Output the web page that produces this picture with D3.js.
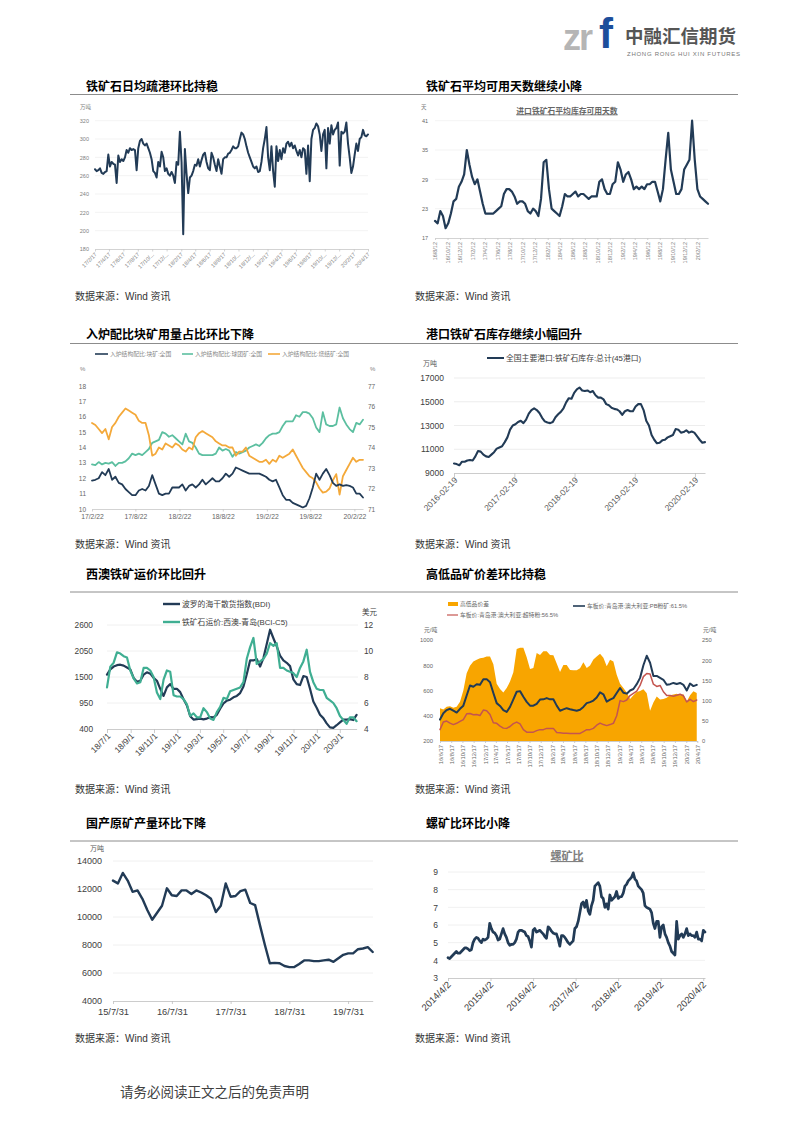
<!DOCTYPE html>
<html><head><meta charset="utf-8">
<script src="https://cdn.jsdelivr.net/npm/d3@7"></script>
<style>
body{margin:0;background:#fff;}
svg{display:block;}
</style></head><body>
<svg id="page" width="793" height="1122"></svg>
<script>
// ---------------- DATA ----------------
// Chart 1: 铁矿石日均疏港 (万吨), weekly 2017-02-17 .. 2020-04-17
const c1Values = [267,265,266,268,263,262,264,265,283,270,275,273,272,252,282,275,278,276,280,288,285,290,288,289,288,266,290,298,300,295,293,295,290,285,278,265,263,258,275,270,286,280,
265,268,262,260,264,260,252,275,272,308,275,196,289,262,241,258,
260,265,272,271,278,270,277,283,285,275,268,266,285,280,272,265,278,270,262,278,280,280,284,285,288,292,290,290,292,300,
307,305,300,292,285,280,275,270,268,270,264,265,275,290,300,313,280,266,292,265,248,292,276,288,278,290,285,295,297,292,
296,290,293,287,282,288,280,290,288,262,293,254,300,310,312,317,314,305,287,305,310,268,312,295,315,305,310,312,318,271,
308,306,308,318,295,280,263,270,283,295,287,300,302,310,304,303,305];
const c1Ticks = [180,200,220,240,260,280,300,320];
const c1Labels = ["17/2/17","17/4/17","17/6/17","17/8/17","17/10/...","17/12/...","18/2/17","18/4/17","18/6/17","18/8/17","18/10/...","18/12/...","19/2/17","19/4/17","19/6/17","19/8/17","19/10/...","19/12/...","20/2/17","20/4/17"];

// Chart 2: 进口铁矿石平均库存可用天数 (天)
const c2Values = [20.5,20,22.5,21.5,19,20,22,24.5,25,27.5,28.5,30,35,32,29.5,28,29,26.5,24,22,
22,22,22,22.5,23,23.5,26,27,27,26.5,25.5,24,24.5,24.5,24,22.5,22,23,22.5,21.5,
25,32.5,33,27,23,22.5,22,21.5,23.5,26,25.5,25.5,26,26.5,25.5,26,26,25.5,25,25.5,
25.5,25.5,28.5,29,27,26,26,28,28.5,32.5,31,28.5,30,30.5,29,27,27.5,27,27.5,27,
28,28,28.5,28.5,26.5,24.5,27,33,38.5,31,28.5,26,26,27,31,32,33,41,33,27,25.5,25,24.5,24];
const c2Ticks = [17,23,29,35,41];
const c2Labels = ["16/8/12","16/10/12","16/12/12","17/2/12","17/4/12","17/6/12","17/8/12","17/10/12","17/12/12","18/2/12","18/4/12","18/6/12","18/8/12","18/10/12","18/12/12","19/2/12","19/4/12","19/6/12","19/8/12","19/10/12","19/12/12","20/2/12"];

// Chart 3: 入炉结构配比 (%)
const c3Names = ["入炉结构配比:块矿:全国","入炉结构配比:球团矿:全国","入炉结构配比:烧结矿:全国"];
const c3Lump = [11.85,11.9,12.0,12.4,12.2,12.6,11.9,12.1,11.7,11.6,11.3,11.1,10.9,10.9,11.2,11.3,11.2,11.5,12.2,11.6,
11.0,10.9,11.0,11.0,11.4,11.4,11.4,11.6,11.2,11.5,11.6,11.4,11.6,11.9,11.6,11.8,12.0,11.8,11.8,12.0,
12.3,12.1,12.3,12.7,12.6,12.5,12.4,12.3,12.3,12.3,12.3,12.2,12.1,11.9,11.8,11.9,11.4,10.9,10.6,10.6,
10.4,10.3,10.2,10.1,10.2,10.7,11.4,12.3,11.9,12.3,12.6,12.2,11.7,11.5,11.6,11.5,11.55,11.5,11.4,11.0,11.0,10.75];
const c3Pellet = [12.9,12.85,13.05,12.9,13.0,12.95,13.05,12.8,13.0,13.0,13.1,13.3,13.6,13.5,13.6,13.5,13.7,13.9,14.3,14.4,
14.5,15.0,14.9,14.7,14.8,14.6,14.4,14.2,14.9,14.4,14.3,14.0,13.6,13.5,13.5,13.5,13.5,13.6,14.0,13.8,
13.9,13.8,13.4,13.7,13.6,13.7,13.8,14.0,14.1,14.2,14.1,14.3,14.6,14.8,14.9,14.9,15.0,15.4,15.7,15.7,
15.7,16.1,16.0,16.3,16.3,16.2,15.9,15.3,15.0,16.3,15.5,15.4,15.4,15.5,16.6,15.9,15.5,15.2,15.0,15.6,15.5,15.8];
const c3Sinter = [75.2,75.1,74.9,74.7,74.9,74.4,75.0,75.2,75.5,75.7,75.9,75.8,75.7,75.6,75.3,75.2,75.2,74.6,73.6,73.7,
74.0,73.9,74.2,74.1,74.0,74.2,74.1,73.9,73.8,74.0,73.9,74.5,74.7,74.8,74.7,74.6,74.5,74.3,74.2,74.1,
74.1,74.0,74.0,73.6,73.8,73.8,74.0,73.6,73.5,73.4,73.3,73.3,73.4,73.2,73.4,73.3,73.6,73.5,73.6,73.7,
73.9,73.6,73.3,73.0,72.8,72.6,72.5,72.3,72.0,71.8,71.85,72.0,72.4,72.7,71.7,72.6,72.9,73.2,73.5,73.3,73.4,73.4];
const c3LeftTicks = [10,11,12,13,14,15,16,17,18];
const c3RightTicks = [71,72,73,74,75,76,77];
const c3Labels = ["17/2/22","17/8/22","18/2/22","18/8/22","19/2/22","19/8/22","20/2/22"];

// Chart 4: 全国主要港口铁矿石库存 (万吨)
const c4Name = "全国主要港口:铁矿石库存:总计(45港口)";
const c4Values = [9800,9750,9650,9950,9950,10050,10100,10050,10400,10850,10800,10550,10400,10350,10550,10750,11050,11150,11250,11600,
12000,12650,13000,13100,13300,13400,13200,13500,14000,14300,14450,14300,14050,13650,13350,13250,13200,13300,13700,13950,
14150,14450,14950,15300,15250,15750,16050,16200,15950,15900,15950,15800,15900,15550,15350,15350,15200,14800,14700,14500,
14400,14350,14200,13900,14200,14300,14200,14200,14600,14800,14800,14300,13400,13000,12200,11800,11500,11550,11750,11800,
12000,12100,12200,12700,12650,12400,12450,12600,12400,12500,12400,12100,11800,11550,11600];
const c4Ticks = [9000,11000,13000,15000,17000];
const c4Labels = ["2016-02-19","2017-02-19","2018-02-19","2019-02-19","2020-02-19"];

// Chart 5: BDI & BCI-C5
const c5Names = ["波罗的海干散货指数(BDI)","铁矿石运价:西澳-青岛(BCI-C5)"];
const c5BDI = [1550,1660,1720,1750,1760,1740,1700,1660,1480,1400,1420,1550,1600,1570,1480,1420,1250,1100,1280,1350,
1250,1250,1180,1030,900,670,600,610,620,605,620,650,645,700,830,940,1000,1020,1070,1100,
1160,1300,1560,1850,1850,1880,1720,1900,2200,2500,2320,2150,1950,1850,1800,1730,1450,1350,1330,1520,
1500,1250,980,850,700,630,520,435,425,480,540,600,600,610,590,700];
const c5C5 = [7.2,8.8,9.1,9.9,9.8,9.6,9.5,8.5,7.9,7.5,7.6,8.7,8.7,8.5,8.0,6.8,6.3,7.8,8.5,8.4,
6.6,6.5,6.5,6.3,5.9,5.0,5.2,4.9,4.9,5.6,5.3,4.8,4.7,5.3,5.7,6.4,6.3,6.9,7.0,7.1,
7.2,7.6,9.4,10.3,11.0,9.0,9.2,9.4,9.8,10.6,10.4,10.6,8.7,8.7,8.5,8.4,8.3,8.0,8.7,9.2,
10.1,8.4,7.6,7.1,7.0,7.0,6.4,6.2,6.0,5.6,5.0,4.7,4.4,4.9,4.9,4.6];
const c5LeftTicks = [400,950,1500,2050,2600];
const c5RightTicks = [4,6,8,10,12];
const c5Labels = ["18/7/1","18/9/1","18/11/1","19/1/1","19/3/1","19/5/1","19/7/1","19/9/1","19/11/1","20/1/1","20/3/1"];

// Chart 6: 高低品价差
const c6Names = ["高低品价差","车板价:青岛港:澳大利亚:PB粉矿:61.5%","车板价:青岛港:澳大利亚:超特粉:56.5%"];
const c6PB = [370,420,445,455,440,425,455,480,560,640,630,650,645,690,690,665,580,500,478,445,
430,470,530,590,595,550,510,480,480,495,528,530,540,530,530,480,440,450,460,452,
445,440,448,470,500,508,520,545,585,570,512,528,540,580,620,582,575,600,612,650,
700,800,875,820,715,715,700,685,645,650,660,652,660,645,600,655,635,645];
const c6SSF = [290,350,358,342,330,340,355,370,415,418,408,410,402,445,440,410,345,340,318,302,
300,315,338,350,335,290,270,270,270,282,290,290,300,300,300,268,265,262,262,260,
260,260,260,275,290,290,300,325,342,330,322,330,340,400,520,512,525,560,578,595,
640,710,735,730,650,632,640,590,560,560,555,562,570,558,510,530,512,525];
const c6Spread = [81,78,85,86,82,85,97,125,168,186,197,201,205,206,209,209,190,142,129,120,
131,147,170,228,231,231,207,178,181,218,213,222,222,213,212,192,171,188,188,176,
175,175,180,195,181,187,202,209,216,206,185,201,197,164,142,131,120,104,113,121,
124,128,118,75,95,110,103,104,107,113,115,117,113,116,98,113,123,119];
const c6LeftTicks = [200,400,600,800,1000];
const c6RightTicks = [0,50,100,150,200,250];
const c6Labels = ["16/6/17","16/8/17","16/10/17","16/12/17","17/2/17","17/4/17","17/6/17","17/8/17","17/10/17","17/12/17","18/2/17","18/4/17","18/6/17","18/8/17","18/10/17","18/12/17","19/2/17","19/4/17","19/6/17","19/8/17","19/10/17","19/12/17","20/2/17","20/4/17"];

// Chart 7: 国产原矿产量 (万吨), monthly from 2015-07
const c7Values = [12600,12400,13150,12600,11800,11900,11300,10500,9800,10300,10800,12050,11550,11500,11900,11900,11650,11900,11750,11550,
11300,10350,10800,12400,11450,11500,11850,11950,11000,10850,9400,8000,6700,6720,6700,6500,6420,6420,6650,6900,
6900,6850,6850,6900,6950,6800,7050,7300,7400,7400,7700,7750,7850,7500];
const c7Ticks = [4000,6000,8000,10000,12000,14000];
const c7Labels = ["15/7/31","16/7/31","17/7/31","18/7/31","19/7/31"];

// Chart 8: 螺矿比
const c8Values = [4.15,4.1,4.2,4.3,4.4,4.5,4.4,4.4,4.5,4.6,4.7,4.7,4.65,4.55,4.6,5.0,5.2,5.3,5.25,5.1,
5.0,5.2,5.15,5.2,5.3,6.1,5.8,5.6,5.55,5.4,5.15,5.2,5.5,5.8,5.5,5.3,5.0,4.85,4.9,4.9,
5.0,5.2,5.6,5.7,5.7,5.65,5.6,5.4,5.35,5.1,4.75,5.7,5.8,5.6,5.65,5.7,5.6,5.5,5.35,5.25,
5.9,5.8,5.65,5.55,5.5,5.5,5.2,4.8,5.4,5.4,5.3,5.15,5.0,4.9,5.0,5.1,5.8,5.9,6.2,6.7,
7.2,7.3,7.0,7.4,6.8,6.6,7.1,7.4,8.2,8.3,8.4,8.2,7.6,7.5,7.0,7.2,6.9,7.7,7.4,7.5,
7.6,7.9,7.5,7.6,7.6,7.8,8.2,8.3,8.5,8.6,8.7,8.95,8.6,8.5,8.2,8.1,8.0,7.8,7.1,7.0,
6.95,6.9,6.7,6.1,5.8,6.2,6.2,5.3,5.9,6.0,5.5,5.3,5.0,4.8,4.5,4.4,4.3,6.2,5.2,5.4,
5.5,5.3,5.5,5.8,5.4,5.5,5.4,5.4,5.3,5.6,5.2,5.2,5.1,5.7,5.6];
const c8Ticks = [3,4,5,6,7,8,9];
const c8Labels = ["2014/4/2","2015/4/2","2016/4/2","2017/4/2","2018/4/2","2019/4/2","2020/4/2"];

// Page texts
const titles = ["铁矿石日均疏港环比持稳","铁矿石平均可用天数继续小降","入炉配比块矿用量占比环比下降","港口铁矿石库存继续小幅回升","西澳铁矿运价环比回升","高低品矿价差环比持稳","国产原矿产量环比下降","螺矿比环比小降"];
const sourceText = "数据来源：Wind 资讯";

// ---------------- HELPERS ----------------
const svg = d3.select("#page");
const parse = d3.timeParse("%Y-%m-%d");
const FONT = '"Liberation Sans","Noto Sans CJK SC",sans-serif';
const INK = "#223b56";
const TEAL3 = "#5cbfa0", ORANGE3 = "#f4a93a";
const TEAL5 = "#3fae92";
const ORANGE6 = "#f8a500", RED6 = "#c4554f";

function spread(vals, s, e){
  const a = parse(s).getTime(), b = parse(e).getTime(), n = vals.length;
  return vals.map((v,i)=>({date:new Date(a+(b-a)*i/(n-1)), value:v}));
}
function monthTicks(start, n, step){ const s = parse(start); return d3.range(n).map(i=>d3.timeMonth.offset(s, i*step)); }
function txt(x,y,s,o){
  return svg.append("text").attr("x",x).attr("y",y).text(s)
    .attr("font-size",o.size).attr("fill",o.fill||"#333").attr("font-weight",o.weight||"normal")
    .attr("text-anchor",o.anchor||"start").attr("font-family",o.family||FONT)
    .attr("dominant-baseline","central");
}
function grid(y, ticks, x0, x1, color){
  svg.append("g").selectAll("line").data(ticks).join("line")
    .attr("x1",x0).attr("x2",x1).attr("y1",d=>y(d)).attr("y2",d=>y(d))
    .attr("stroke",color||"#ebebeb").attr("stroke-width",0.8);
}
function yAxis(scale, ticks, x, side, o){
  const ax = (side==="left"?d3.axisLeft(scale):d3.axisRight(scale)).tickValues(ticks).tickSize(0).tickPadding(0).tickFormat(o.fmt||(d=>d));
  const a = svg.append("g").attr("transform",`translate(${x},0)`).call(ax);
  a.select(".domain").remove();
  a.selectAll("text").attr("font-size",o.size).attr("fill",o.color||"#595959").attr("font-family",FONT);
  return a;
}
function xAxis(scale, ticks, labels, y, o){
  const ax = d3.axisBottom(scale).tickValues(ticks).tickFormat((d,i)=>labels[i]).tickSizeInner(o.tick).tickSizeOuter(0).tickPadding(o.pad||2);
  const a = svg.append("g").attr("transform",`translate(0,${y})`).call(ax);
  a.select(".domain").attr("stroke",o.line||"#bfbfbf").attr("stroke-width",o.lw||0.8);
  a.selectAll(".tick line").attr("stroke",o.line||"#bfbfbf").attr("stroke-width",o.lw||0.8);
  const t = a.selectAll("text").attr("font-size",o.size).attr("fill",o.color||"#595959").attr("font-family",FONT);
  if(o.rot===-45){ t.attr("transform","rotate(-45)").attr("x",-3).attr("y",o.tick+1).attr("dy","0.35em").style("text-anchor","end"); }
  else if(o.rot===-90){ t.attr("transform","rotate(-90)").attr("x",-(o.tick+2)).attr("y",0).attr("dy","0.35em").style("text-anchor","end"); }
  return a;
}
function drawLine(data, x, y, color, w){
  svg.append("path").datum(data).attr("fill","none").attr("stroke",color).attr("stroke-width",w)
    .attr("stroke-linejoin","round").attr("stroke-linecap","round")
    .attr("d", d3.line().x(d=>x(d.date)).y(d=>y(d.value)));
}
function legendLine(x0,x1,y,color,w){
  svg.append("line").attr("x1",x0).attr("x2",x1).attr("y1",y).attr("y2",y).attr("stroke",color).attr("stroke-width",w);
}

// ---------------- PAGE FRAME ----------------
// logo
txt(563,37,"zr",{size:36,fill:"#b5b5b5",weight:"bold"}).attr("letter-spacing",-2);
txt(599,33,"f",{size:42,fill:"#1c4e9b",weight:"bold"});
txt(625,35,"中融汇信期货",{size:18.5,fill:"#555",weight:"bold",family:'"Noto Sans CJK SC",sans-serif'});
txt(627,54,"ZHONG RONG HUI XIN FUTURES",{size:6,fill:"#777"}).attr("textLength",113);

const rowRule = [94.5,343.5,592,841];
const rowTitle = [85,333,573,822];
const rowSource = [296,544,789,1038];
rowRule.forEach(y=>svg.append("line").attr("x1",70).attr("x2",738).attr("y1",y).attr("y2",y).attr("stroke","#8c8c8c").attr("stroke-width",1));
titles.forEach((t,i)=>{
  const r = Math.floor(i/2), c = i%2;
  txt(c?426:86, rowTitle[r], t, {size:12, fill:"#000", weight:"bold", family:'"Noto Sans CJK SC",sans-serif'});
});
rowSource.forEach(y=>{
  txt(75,y,sourceText,{size:10,fill:"#333"});
  txt(415,y,sourceText,{size:10,fill:"#333"});
});
txt(120,1091,"请务必阅读正文之后的免责声明",{size:13.5,fill:"#404040",family:'"Noto Sans CJK SC",sans-serif'});

// ---------------- CHART 1 ----------------
(function(){
  const x = d3.scaleTime().domain([parse("2017-02-17"),parse("2020-04-17")]).range([95,368]);
  const y = d3.scaleLinear().domain([180,320]).range([249,120.7]);
  grid(y, c1Ticks.slice(1), 95, 368, "#f0f0f0");
  yAxis(y, c1Ticks, 89, "left", {size:5.5, color:"#808080"});
  xAxis(x, monthTicks("2017-02-17",20,2), c1Labels, 249, {tick:2.5, size:5.5, color:"#808080", rot:-45, line:"#c8c8c8"});
  txt(80,107,"万吨",{size:5.5,fill:"#808080"});
  drawLine(spread(c1Values,"2017-02-17","2020-04-17"), x, y, INK, 2.0);
})();

// ---------------- CHART 2 ----------------
(function(){
  const x = d3.scaleTime().domain([parse("2016-08-12"),parse("2020-04-03")]).range([435,708]);
  const y = d3.scaleLinear().domain([17,41]).range([238,120.7]);
  grid(y, c2Ticks.slice(1), 435, 708, "#f0f0f0");
  yAxis(y, c2Ticks, 428, "left", {size:5.5, color:"#666"});
  xAxis(x, monthTicks("2016-08-12",22,2), c2Labels, 238, {tick:2, size:5.5, color:"#808080", rot:-90, line:"#c8c8c8"});
  txt(421,107,"天",{size:5.5,fill:"#808080"});
  txt(567,110,"进口铁矿石平均库存可用天数",{size:7.8,fill:"#666",weight:"bold",anchor:"middle",family:'"Noto Sans CJK SC",sans-serif'}).attr("text-decoration","underline");
  drawLine(spread(c2Values,"2016-08-12","2020-04-03"), x, y, INK, 2.2);
})();

// ---------------- CHART 3 ----------------
(function(){
  const x = d3.scaleTime().domain([parse("2017-02-22"),parse("2020-03-29")]).range([92,363]);
  const yL = d3.scaleLinear().domain([10,18]).range([509,386]);
  const yR = d3.scaleLinear().domain([71,77]).range([509,386]);
  yAxis(yL, c3LeftTicks, 86, "left", {size:6.5, color:"#666"});
  yAxis(yR, c3RightTicks, 368, "right", {size:6.5, color:"#666"});
  xAxis(x, monthTicks("2017-02-22",7,6), c3Labels, 509, {tick:2.5, size:6.8, color:"#666", line:"#c8c8c8", pad:3});
  txt(80,369,"%",{size:6,fill:"#808080"});
  txt(370,369,"%",{size:6,fill:"#808080"});
  const lx = [[95,108,110],[182,193,195],[268,280,282]];
  const cols = [INK, TEAL3, ORANGE3];
  c3Names.forEach((n,i)=>{ legendLine(lx[i][0],lx[i][1],354,cols[i],1.6); txt(lx[i][2],354,n,{size:5.8,fill:"#888"}); });
  drawLine(spread(c3Pellet,"2017-02-22","2020-03-29"), x, yL, TEAL3, 1.8);
  drawLine(spread(c3Sinter,"2017-02-22","2020-03-29"), x, yR, ORANGE3, 1.8);
  drawLine(spread(c3Lump,"2017-02-22","2020-03-29"), x, yL, INK, 1.8);
})();

// ---------------- CHART 4 ----------------
(function(){
  const x = d3.scaleTime().domain([parse("2016-02-19"),parse("2020-04-20")]).range([454,705]);
  const y = d3.scaleLinear().domain([9000,17000]).range([473,378]);
  grid(y, c4Ticks.slice(1), 454, 705, "#e9e9e9");
  yAxis(y, c4Ticks, 444, "left", {size:8.5, color:"#404040"});
  xAxis(x, monthTicks("2016-02-19",5,12), c4Labels, 473, {tick:4, size:8.5, color:"#595959", rot:-45, line:"#bfbfbf"});
  txt(423,363,"万吨",{size:7,fill:"#595959"});
  legendLine(487,504,358,INK,2);
  txt(506,358,c4Name,{size:7.8,fill:"#404040"});
  drawLine(spread(c4Values,"2016-02-19","2020-04-20"), x, y, INK, 2.1);
})();

// ---------------- CHART 5 ----------------
(function(){
  const x = d3.scaleTime().domain([parse("2018-07-01"),parse("2020-04-14")]).range([107,356.6]);
  const yL = d3.scaleLinear().domain([400,2600]).range([729,625]);
  const yR = d3.scaleLinear().domain([4,12]).range([729,625]);
  grid(yL, c5LeftTicks.slice(1), 107, 358, "#ececec");
  yAxis(yL, c5LeftTicks, 93, "left", {size:8.3, color:"#404040"});
  yAxis(yR, c5RightTicks, 364, "right", {size:8.3, color:"#404040"});
  xAxis(x, monthTicks("2018-07-01",11,2), c5Labels, 729, {tick:4, size:8.5, color:"#404040", rot:-45, line:"#bfbfbf"});
  txt(362,612,"美元",{size:7.5,fill:"#404040"});
  legendLine(163,180,604,INK,2.4); txt(182,604,c5Names[0],{size:7.8,fill:"#404040"});
  legendLine(163,180,622,TEAL5,2.4); txt(182,622,c5Names[1],{size:7.8,fill:"#404040"});
  drawLine(spread(c5BDI,"2018-07-01","2020-04-14"), x, yL, INK, 2.2);
  drawLine(spread(c5C5,"2018-07-01","2020-04-14"), x, yR, TEAL5, 2.2);
})();

// ---------------- CHART 6 ----------------
(function(){
  const x = d3.scaleTime().domain([parse("2016-06-17"),parse("2020-04-17")]).range([440,697.3]);
  const yL = d3.scaleLinear().domain([200,1000]).range([741,640]);
  const yR = d3.scaleLinear().domain([0,250]).range([741,640]);
  const sp = spread(c6Spread,"2016-06-17","2020-04-14");
  svg.append("path").datum(sp).attr("fill",ORANGE6)
    .attr("d", d3.area().x(d=>x(d.date)).y0(yR(0)).y1(d=>yR(d.value)));
  yAxis(yL, c6LeftTicks, 433, "left", {size:5.8, color:"#666"});
  yAxis(yR, c6RightTicks, 702, "right", {size:5.8, color:"#666"});
  xAxis(x, monthTicks("2016-06-17",24,2), c6Labels, 741, {tick:2, size:5.8, color:"#666", rot:-90, line:"#bfbfbf"});
  txt(424,630,"元/吨",{size:5.8,fill:"#666"});
  txt(703,630,"元/吨",{size:5.8,fill:"#666"});
  svg.append("rect").attr("x",448).attr("y",602).attr("width",10).attr("height",4).attr("fill",ORANGE6);
  txt(460,604,c6Names[0],{size:5.8,fill:"#666"});
  legendLine(573,585,606,INK,1.6); txt(587,606,c6Names[1],{size:5.8,fill:"#666"});
  legendLine(447,458,615,RED6,1.2); txt(460,615,c6Names[2],{size:5.8,fill:"#666"});
  drawLine(spread(c6SSF,"2016-06-17","2020-04-14"), x, yL, RED6, 1.5);
  drawLine(spread(c6PB,"2016-06-17","2020-04-14"), x, yL, INK, 2.0);
})();

// ---------------- CHART 7 ----------------
(function(){
  const x = d3.scaleTime().domain([parse("2015-07-31"),parse("2019-12-31")]).range([113,372.7]);
  const y = d3.scaleLinear().domain([4000,14000]).range([1001,861]);
  grid(y, c7Ticks.slice(1), 113, 373, "#ececec");
  yAxis(y, c7Ticks, 102, "left", {size:9, color:"#404040"});
  xAxis(x, monthTicks("2015-07-31",5,12), c7Labels, 1001, {tick:3, size:9.3, color:"#404040", line:"#bfbfbf", pad:4});
  txt(90,848,"万吨",{size:7,fill:"#595959"});
  drawLine(spread(c7Values,"2015-07-31","2019-12-31"), x, y, INK, 2.4);
})();

// ---------------- CHART 8 ----------------
(function(){
  const x = d3.scaleTime().domain([parse("2014-04-02"),parse("2020-04-17")]).range([448,705]);
  const y = d3.scaleLinear().domain([3,9]).range([978,872]);
  grid(y, c8Ticks.slice(1), 448, 705, "#ececec");
  yAxis(y, c8Ticks, 438, "left", {size:8.5, color:"#404040"});
  xAxis(x, monthTicks("2014-04-02",7,12), c8Labels, 978, {tick:3, size:9.5, color:"#404040", rot:-45, line:"#bfbfbf"});
  txt(567,855,"螺矿比",{size:11,fill:"#808080",weight:"bold",anchor:"middle",family:'"Noto Sans CJK SC",sans-serif'}).attr("text-decoration","underline");
  drawLine(spread(c8Values,"2014-04-02","2020-04-17"), x, y, INK, 2.7);
})();
</script>
</body></html>
